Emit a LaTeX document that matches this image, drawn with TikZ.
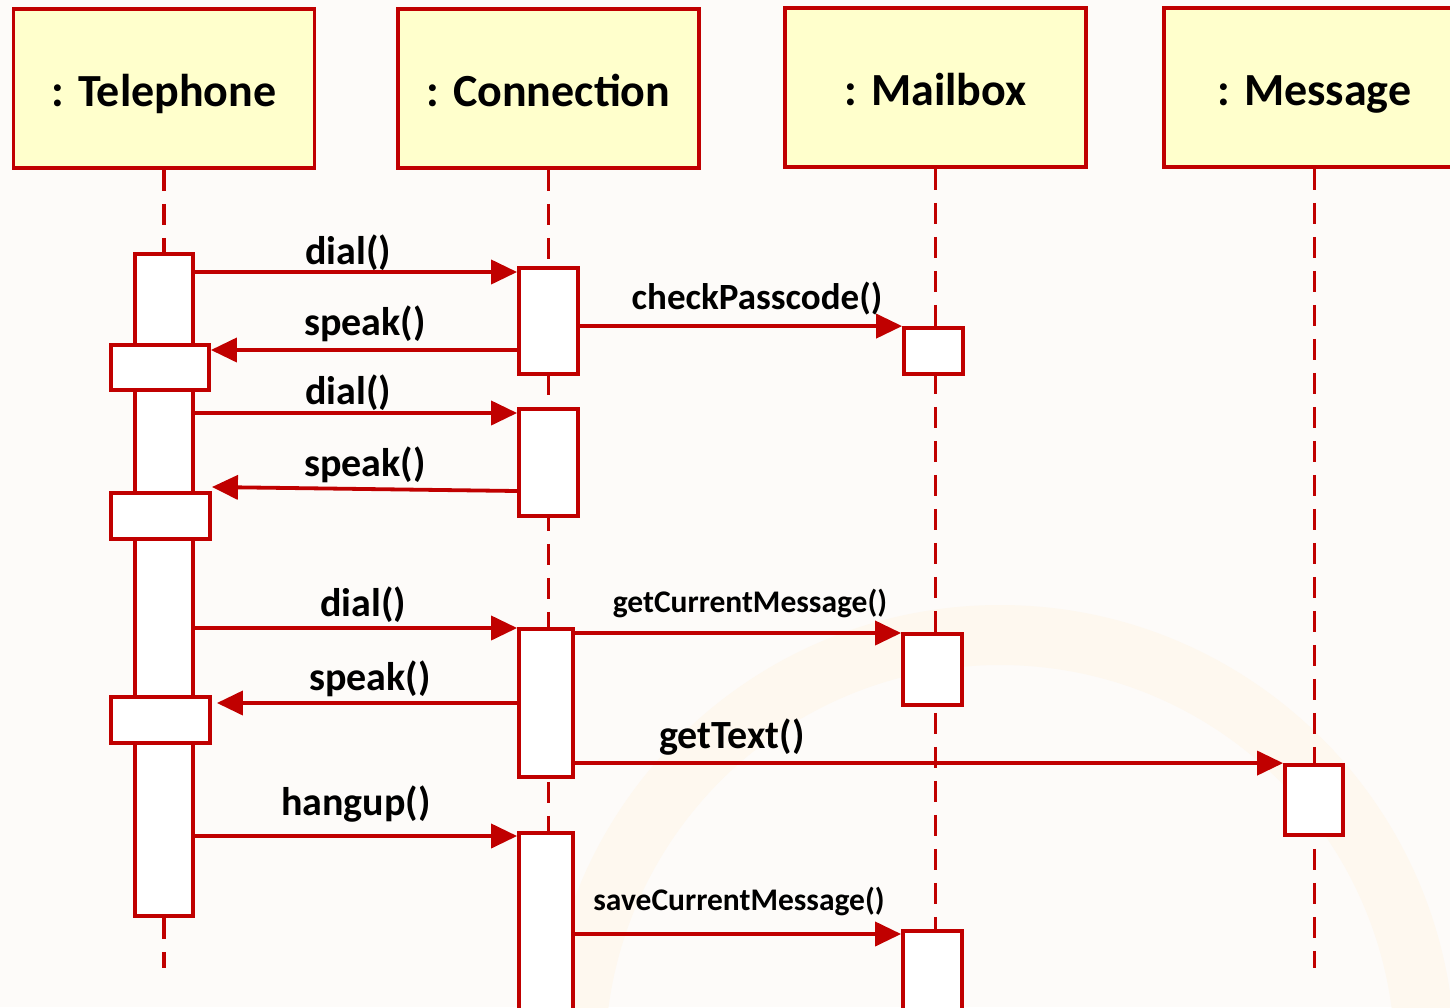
\documentclass[tikz,border=0pt]{standalone}
\usepackage{fontspec}
\setmainfont{Carlito}
\usetikzlibrary{arrows.meta}
\definecolor{line color}{RGB}{192,0,0}
\definecolor{head fill}{RGB}{255,255,204}
\definecolor{page color}{RGB}{253,251,249}
\definecolor{ring color}{RGB}{254,248,239}

\begin{document}
\begin{tikzpicture}[
	x=1pt, y=-1pt,
	font=\bfseries,
	head/.style={draw=line color, line width=3.8pt, fill=head fill,
		minimum width=301pt, minimum height=159pt,
		text height=40pt, text depth=5pt,
		font=\fontsize{46}{50}\selectfont\bfseries},
	act/.style={draw=line color, line width=3.8pt, fill=white, inner sep=0pt},
	msg/.style={line color, line width=3.8pt, -{Triangle[length=26pt,width=24pt]}},
	lifeline/.style={line color, line width=3.5pt, dash pattern=on 21pt off 13pt},
	big/.style={font=\fontsize{40}{44}\selectfont\bfseries, anchor=base, inner sep=0pt},
	mid/.style={font=\fontsize{37}{40}\selectfont\bfseries, anchor=base, inner sep=0pt},
	small/.style={font=\fontsize{31.5}{34}\selectfont\bfseries, anchor=base, inner sep=0pt}]

\useasboundingbox (0,0) rectangle (1450,1007);

% Background
\fill [page color] (0,0) rectangle (1450,1007);
\fill [ring color, even odd rule] (1000,1060) circle (455pt) (1000,1060) circle (395pt);

% Objects
\foreach \x/\y/\n/\t in {164/88.5/telhead/Telephone, 548.5/88.5/conhead/Connection,
		935.5/87.5/mbhead/Mailbox, 1314.5/87.5/msghead/Message} {
	\node (\n) at (\x,\y) [head] {: \t};
}

% Lifelines
\foreach \n in {telhead, conhead, mbhead, msghead} {
	\draw [lifeline] (\n.south) -- (\n.south |- 0,968);
}

% Activations
\node (telbar) at (164,585) [act, minimum width=58pt, minimum height=662pt] {};
\node (tb1) at (160,367.5) [act, minimum width=98pt, minimum height=45pt] {};
\node (tb2) at (160.5,516) [act, minimum width=99pt, minimum height=46pt] {};
\node (tb3) at (160.5,720) [act, minimum width=99pt, minimum height=46pt] {};

\node (con1) at (548.5,321) [act, minimum width=59pt, minimum height=106pt] {};
\node (con2) at (548.5,462.5) [act, minimum width=59pt, minimum height=107pt] {};
\node (con3) at (546,703) [act, minimum width=54pt, minimum height=148pt] {};
\node (con4) at (546,921.5) [act, minimum width=54pt, minimum height=177pt] {};

\node (mb1) at (933.5,351) [act, minimum width=59pt, minimum height=46pt] {};
\node (mb2) at (932.5,669.5) [act, minimum width=59pt, minimum height=71pt] {};
\node (mb3) at (932.5,970.5) [act, minimum width=59pt, minimum height=79pt] {};

\node (msg1) at (1314,800) [act, minimum width=58pt, minimum height=70pt] {};

% Messages
\draw [msg] (telbar.east |- 0,272) -- (con1.west |- 0,272);
\draw [msg] (con1.west |- 0,350) -- (tb1.east |- 0,350);
\draw [msg] (con1.east |- mb1.north west) -- (mb1.north west);
\draw [msg] (telbar.east |- 0,413) -- (con2.west |- 0,413);
\draw [msg] (con2.west |- 0,491) -- (tb2.east |- 0,487);
\draw [msg] (telbar.east |- 0,628) -- (con3.west |- 0,628);
\draw [msg] (con3.east |- 0,633) -- (mb2.west |- 0,633);
\draw [msg] (con3.west |- 0,703) -- ([xshift=5pt]tb3.east |- 0,703);
\draw [msg] (con3.east |- msg1.north west) -- (msg1.north west);
\draw [msg] (telbar.east |- 0,836) -- (con4.west |- 0,836);
\draw [msg] (con4.east |- 0,934) -- (mb3.west |- 0,934);

% Labels
\node (ldial1) at (348,264) [big] {dial()};
\node (lspeak1) at (365,335) [big] {speak()};
\node (lcheck) at (757,309) [mid] {checkPasscode()};
\node (ldial2) at (348,404) [big] {dial()};
\node (lspeak2) at (365,476) [big] {speak()};
\node (ldial3) at (363,616) [big] {dial()};
\node (lgetcur) at (750,612) [small] {getCurrentMessage()};
\node (lspeak3) at (370,690) [big] {speak()};
\node (lgettext) at (732,748) [big] {getText()};
\node (lhangup) at (356,815) [big] {hangup()};
\node (lsavecur) at (739,910) [small] {saveCurrentMessage()};

\end{tikzpicture}
\end{document}
